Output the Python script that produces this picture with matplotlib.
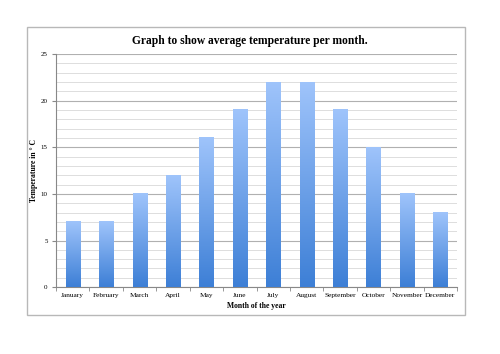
import numpy as np
import matplotlib.pyplot as plt
from matplotlib.patches import Rectangle
from matplotlib.colors import LinearSegmentedColormap

months = ['January', 'February', 'March', 'April', 'May', 'June', 'July',
          'August', 'September', 'October', 'November', 'December']
temps = [7, 7, 10, 12, 16, 19, 22, 22, 19, 15, 10, 8]

plt.rcParams['font.family'] = ['Liberation Serif', 'DejaVu Serif']

fig = plt.figure(figsize=(5, 3.54), dpi=100)
fig.patches.append(Rectangle((0.054, 0.110), 0.876, 0.814, transform=fig.transFigure,
                             fill=False, edgecolor='#b8b8b8', linewidth=1.0))

ax = fig.add_axes([0.112, 0.189, 0.802, 0.658])

x = np.arange(len(months))
width = 0.42
bars = ax.bar(x, temps, width=width, color='none', edgecolor='none', zorder=3)

# gradient fill for each bar
cmap = LinearSegmentedColormap.from_list('blu', ['#3d7fd6', '#9fc4fb'])
grad = np.linspace(0, 1, 256).reshape(-1, 1)
for b in bars:
    x0, w, h = b.get_x(), b.get_width(), b.get_height()
    ax.imshow(grad, cmap=cmap, aspect='auto', origin='lower',
              extent=(x0, x0 + w, 0, h), zorder=3)

ax.set_xlim(-0.5, len(months) - 0.5)
ax.set_ylim(0, 25)

# grid lines
ax.set_yticks(range(0, 26, 5))
ax.set_yticks(range(0, 26), minor=True)
ax.grid(axis='y', which='major', color='#b0b0b0', linewidth=0.8, zorder=0)
ax.grid(axis='y', which='minor', color='#d8d8d8', linewidth=0.6, zorder=0)
ax.tick_params(axis='y', which='minor', length=0)
ax.tick_params(axis='y', which='major', labelsize=5, length=3, color='#888888', pad=3)

ax.set_xticks(x)
ax.set_xticklabels(months, fontsize=5.3)
ax.set_xticks(np.arange(-0.5, len(months)), minor=True)
ax.tick_params(axis='x', which='major', length=0, pad=4)
ax.tick_params(axis='x', which='minor', length=3, color='#888888')

for s in ['top', 'right']:
    ax.spines[s].set_visible(False)
for s in ['left', 'bottom']:
    ax.spines[s].set_color('#888888')
    ax.spines[s].set_linewidth(0.8)

fig.text(0.5, 0.884, 'Graph to show average temperature per month.',
         ha='center', va='center', fontsize=8.3, fontweight='bold')
ax.set_xlabel('Month of the year', fontsize=5.5, fontweight='bold', labelpad=3)
ax.set_ylabel('Temperature in \u00b0 C', fontsize=5.5, fontweight='bold', labelpad=2)

fig.savefig('out.png', dpi=100, facecolor='white')
